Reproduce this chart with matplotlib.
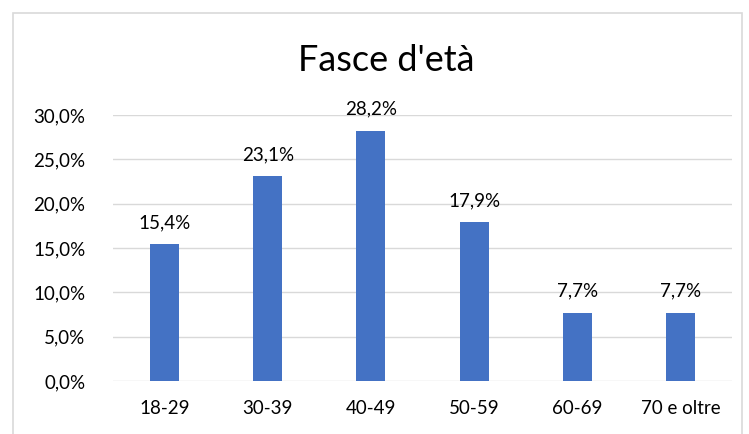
import matplotlib

matplotlib.use("Agg")
import matplotlib.pyplot as plt
from matplotlib.patches import Rectangle
from matplotlib.ticker import FuncFormatter

# Age bands and share of respondents (%)
categories = ["18-29", "30-39", "40-49", "50-59", "60-69", "70 e oltre"]
values = [15.4, 23.1, 28.2, 17.9, 7.7, 7.7]
y_ticks = [0, 5, 10, 15, 20, 25, 30]

BAR = "#4472c4"
GRID = "#d9d9d9"
FG = "#000000"

plt.rcParams["font.family"] = ["Lato", "DejaVu Sans"]

fig = plt.figure(figsize=(7.49, 4.34), dpi=100, facecolor="white")
W, H = 749, 434
ax = fig.add_axes([113 / W, 1 - 381 / H, (732 - 113) / W, (381 - 115) / H])

x = range(len(categories))
ax.bar(x, values, width=0.28, color=BAR, zorder=3)
for xi, v in zip(x, values):
    ax.text(xi, v + 1.5, f"{v:.1f}%".replace(".", ","), ha="center", va="bottom",
            fontsize=13.5, color=FG, zorder=4)

ax.set_xlim(-0.5, len(categories) - 0.5)
ax.set_ylim(0, 30)
ax.set_yticks(y_ticks)
ax.yaxis.set_major_formatter(FuncFormatter(lambda v, _: f"{v:.1f}%".replace(".", ",")))
ax.set_xticks(list(x))
ax.set_xticklabels(categories)
ax.tick_params(axis="both", length=0, labelsize=13.5, colors=FG)
ax.tick_params(axis="x", pad=14)
ax.tick_params(axis="y", pad=20)
ax.grid(axis="y", color=GRID, linewidth=1, zorder=0)
for spine in ax.spines.values():
    spine.set_visible(False)

fig.text(386 / W, 1 - 60 / H, "Fasce d'età", ha="center", va="center", fontsize=26, color=FG)

# outer chart border
fig.patches.append(Rectangle((13 / W, -0.05), (742 - 13) / W, 1 - 13 / H + 0.05,
                             transform=fig.transFigure, fill=False,
                             edgecolor=GRID, linewidth=1.2))

fig.savefig("out.png", dpi=100, facecolor="white")
